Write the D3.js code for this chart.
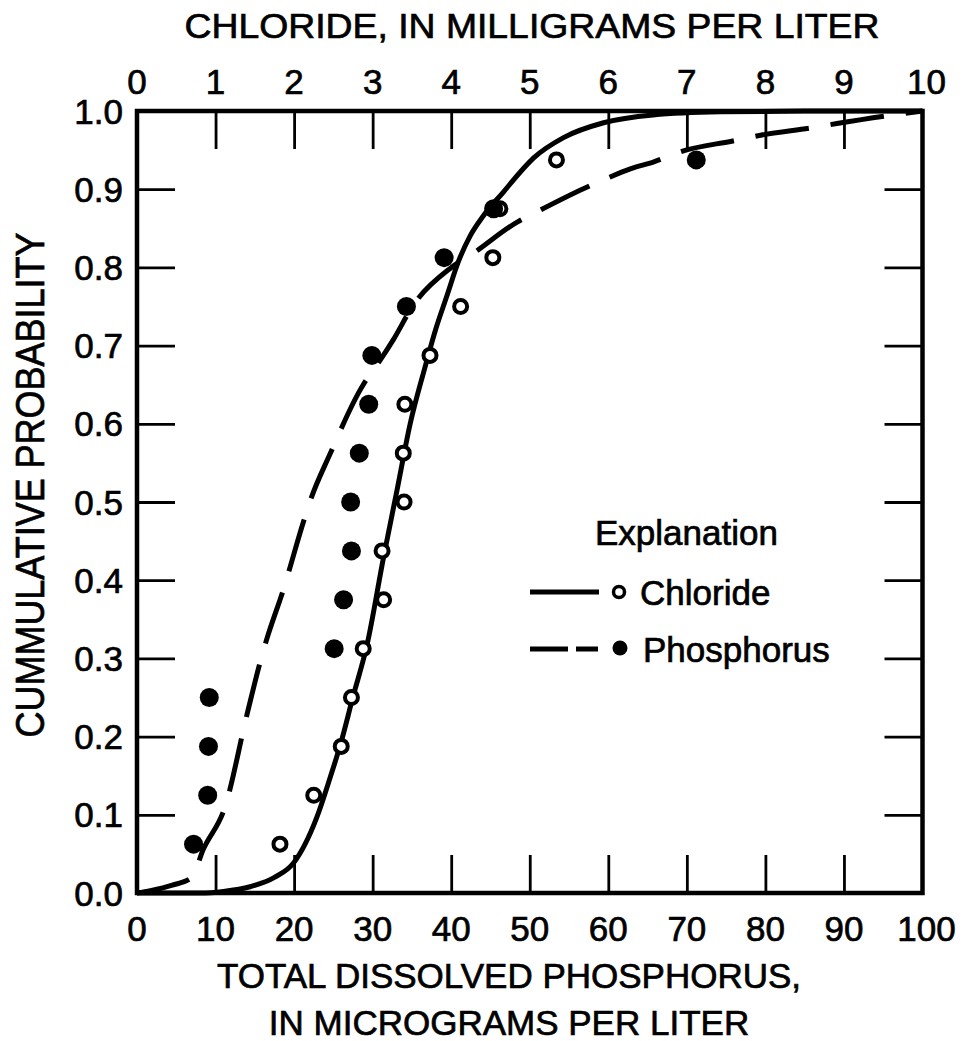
<!DOCTYPE html>
<html><head><meta charset="utf-8">
<script src="https://cdn.jsdelivr.net/npm/d3@7"></script>
<style>
html,body{margin:0;padding:0;background:#fff;}
svg text{font-family:"Liberation Sans",Arial,Helvetica,sans-serif;fill:#000;stroke:#000;stroke-width:0.7px;}
</style></head><body>
<svg id="chart" width="964" height="1041"></svg>
<script>
// ---------- data ----------
const probability = [0.0625,0.125,0.1875,0.25,0.3125,0.375,0.4375,0.5,0.5625,0.625,0.6875,0.75,0.8125,0.875,0.9375];
const chlorideValues = [1.82,2.25,2.60,2.73,2.88,3.14,3.12,3.40,3.39,3.41,3.73,4.12,4.53,4.62,5.34];      // mg/L
const phosphorusValues = [7.2,9.0,9.1,9.2,25.1,26.3,27.3,27.2,28.3,29.5,29.9,34.3,39.1,45.4,71.2];       // µg/L

const chlorideCurveX = [0,0.8,1.1,1.44,1.75,1.99,2.29,2.46,2.59,2.75,2.93,3.14,3.31,3.48,3.66,3.80,3.95,4.09,4.24,4.41,4.67,4.88,5.05,5.43,5.94,6.57,7.43,8.5,10];
const chlorideCurveP = [0,0,0.002,0.008,0.020,0.038,0.097,0.148,0.190,0.251,0.318,0.430,0.515,0.601,0.670,0.720,0.765,0.807,0.840,0.866,0.897,0.922,0.940,0.966,0.985,0.995,0.999,1.0,1.0];

const phosphorusCurveX = [0,1.7,4.5,7.0,8.4,11.2,14.0,15.7,16.5,18.6,21.2,22.0,24.6,28.8,30.4,32.6,35.2,39.9,42.8,48.4,50.5,56.9,59.4,62.8,65.8,69.2,76.0,79.4,86.2,89.1,95.5,100];
const phosphorusCurveP = [0,0.003,0.010,0.020,0.055,0.110,0.228,0.296,0.324,0.387,0.475,0.500,0.562,0.650,0.673,0.707,0.752,0.799,0.818,0.858,0.869,0.901,0.912,0.926,0.935,0.948,0.962,0.969,0.979,0.984,0.994,1.0];

const phosphorusTicks = [0,10,20,30,40,50,60,70,80,90,100];
const chlorideTicks = [0,1,2,3,4,5,6,7,8,9,10];
const probTicks = [0,0.1,0.2,0.3,0.4,0.5,0.6,0.7,0.8,0.9,1.0];
const probTickLabels = ["0.0","0.1","0.2","0.3","0.4","0.5","0.6","0.7","0.8","0.9","1.0"];

const topTitle = "CHLORIDE, IN MILLIGRAMS PER LITER";
const bottomTitle = ["TOTAL DISSOLVED PHOSPHORUS,","IN MICROGRAMS PER LITER"];
const leftTitle = "CUMMULATIVE PROBABILITY";
const legendTitle = "Explanation";
const seriesNames = ["Chloride","Phosphorus"];

// ---------- layout ----------
const L = 137, R = 922.5, T = 111, B = 893;
const svg = d3.select("#chart");
const xP = d3.scaleLinear().domain([0,100]).range([L,R]);
const xC = d3.scaleLinear().domain([0,10]).range([L,R]);
const y = d3.scaleLinear().domain([0,1]).range([B,T]);
const FS = 35;
const tickLen = 38;

const inner = probTicks.filter(d => d > 0 && d < 1);
const innerP = phosphorusTicks.filter(d => d > 0 && d < 100);
const innerC = chlorideTicks.filter(d => d > 0 && d < 10);

function styleAxis(g){
  g.select(".domain").remove();
  g.selectAll(".tick line").attr("stroke","#000").attr("stroke-width",2.8);
  g.selectAll(".tick text").remove();
}
svg.append("g").attr("transform",`translate(0,${B})`)
  .call(d3.axisTop(xP).tickValues(innerP).tickSize(tickLen)).call(styleAxis);
svg.append("g").attr("transform",`translate(0,${T})`)
  .call(d3.axisBottom(xC).tickValues(innerC).tickSize(tickLen)).call(styleAxis);
svg.append("g").attr("transform",`translate(${L},0)`)
  .call(d3.axisRight(y).tickValues(inner).tickSize(tickLen)).call(styleAxis);
svg.append("g").attr("transform",`translate(${R},0)`)
  .call(d3.axisLeft(y).tickValues(inner).tickSize(tickLen)).call(styleAxis);

// tick labels
svg.append("g").selectAll("text").data(phosphorusTicks).join("text")
  .attr("x", d => xP(d) + (d === 100 ? 4 : 0)).attr("y", 941).attr("text-anchor","middle")
  .attr("font-size", FS).text(d => d);
svg.append("g").selectAll("text").data(chlorideTicks).join("text")
  .attr("x", d => xC(d) + (d === 10 ? 4 : 0)).attr("y", 94).attr("text-anchor","middle")
  .attr("font-size", FS).text(d => d);
svg.append("g").selectAll("text").data(probTicks).join("text")
  .attr("x", 123).attr("y", d => y(d)).attr("dy","0.36em").attr("text-anchor","end")
  .attr("font-size", FS).text((d,i) => probTickLabels[i]);

// titles
svg.append("text").attr("x", 532).attr("y", 38).attr("text-anchor","middle")
  .attr("font-size", FS).attr("textLength", 695).attr("lengthAdjust","spacingAndGlyphs").text(topTitle);
svg.append("g").selectAll("text").data(bottomTitle).join("text")
  .attr("x", 509).attr("y", (d,i) => 988 + i*47).attr("text-anchor","middle")
  .attr("font-size", FS).text(d => d);
svg.append("text").attr("transform","translate(44,485) rotate(-90)").attr("text-anchor","middle")
  .attr("font-size", 40).attr("textLength", 505).attr("lengthAdjust","spacingAndGlyphs").text(leftTitle);

// curves
const chlCurve = chlorideCurveX.map((v,i) => [v, chlorideCurveP[i]]);
const phCurve = phosphorusCurveX.map((v,i) => [v, phosphorusCurveP[i]]);
svg.append("path").datum(chlCurve)
  .attr("d", d3.line().x(d => xC(d[0])).y(d => y(d[1])).curve(d3.curveMonotoneX))
  .attr("fill","none").attr("stroke","#000").attr("stroke-width",5);
svg.append("path").datum(phCurve)
  .attr("d", d3.line().x(d => xP(d[0])).y(d => y(d[1])).curve(d3.curveMonotoneX))
  .attr("fill","none").attr("stroke","#000").attr("stroke-width",5)
  .attr("stroke-dasharray","54,22");

// points
svg.append("g").selectAll("circle").data(chlorideValues).join("circle")
  .attr("cx", d => xC(d)).attr("cy", (d,i) => y(probability[i])).attr("r", 6.5)
  .attr("fill","#fff").attr("stroke","#000").attr("stroke-width",4);
svg.append("g").selectAll("circle").data(phosphorusValues).join("circle")
  .attr("cx", d => xP(d)).attr("cy", (d,i) => y(probability[i])).attr("r", 9.5)
  .attr("fill","#000");

// frame
svg.append("rect").attr("x",L).attr("y",T).attr("width",R-L).attr("height",B-T)
  .attr("fill","none").attr("stroke","#000").attr("stroke-width",4.5);

// legend
const lg = svg.append("g");
lg.append("text").attr("x",595).attr("y",545).attr("font-size",35).text(legendTitle);
lg.append("line").attr("x1",530).attr("x2",599).attr("y1",592).attr("y2",592)
  .attr("stroke","#000").attr("stroke-width",5);
lg.append("circle").attr("cx",619).attr("cy",592).attr("r",5.5)
  .attr("fill","#fff").attr("stroke","#000").attr("stroke-width",3.5);
lg.append("text").attr("x",640).attr("y",605).attr("font-size",35).text(seriesNames[0]);
lg.append("line").attr("x1",530).attr("x2",598).attr("y1",649).attr("y2",649)
  .attr("stroke","#000").attr("stroke-width",5).attr("stroke-dasharray","38,8");
lg.append("circle").attr("cx",620).attr("cy",648).attr("r",7.5).attr("fill","#000");
lg.append("text").attr("x",643).attr("y",662).attr("font-size",35).text(seriesNames[1]);
</script>
</body></html>
